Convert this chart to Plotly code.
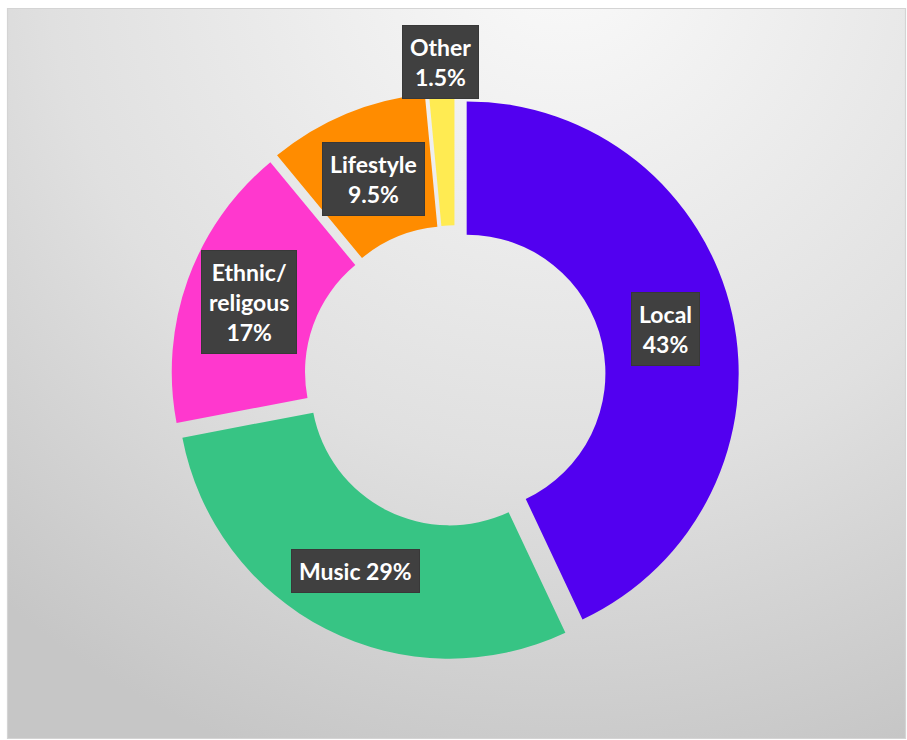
import base64
import math
import plotly.graph_objects as go

# ---- data ----
categories = ["Local", "Music", "Ethnic/religous", "Lifestyle", "Other"]
values = [43, 29, 17, 9.5, 1.5]
label_texts = ["Local<br>43%", "Music 29%", "Ethnic/<br>religous<br>17%", "Lifestyle<br>9.5%", "Other<br>1.5%"]
colors = ["#5200F0", "#37C484", "#FF38CE", "#FF8C00", "#FFEB52"]

# ---- layout constants ----
W, H = 907, 740
PULL = 0.044
HOLE = 0.51
CX, CY = 455, 376          # pie centre in pixels
R = 272                     # outer radius in pixels
half = R * (1 + PULL)
dom_x = [(CX - half) / W, (CX + half) / W]
dom_y = [1 - (CY + half) / H, 1 - (CY - half) / H]

fig = go.Figure()
fig.add_trace(go.Pie(
    labels=categories, values=values, sort=False, direction="clockwise", rotation=0,
    hole=HOLE, pull=[PULL] * len(values),
    marker=dict(colors=colors, line=dict(width=0)),
    textinfo="none", hoverinfo="label+percent", showlegend=False,
    domain=dict(x=dom_x, y=dom_y),
))

# background gradient (radial) as an SVG image
fx0, fy0, fx1, fy1 = 7.5, 8.5, 905.5, 738.5
fw, fh = fx1 - fx0, fy1 - fy0
svg = (
    f'<svg xmlns="http://www.w3.org/2000/svg" width="{fw}" height="{fh}" viewBox="0 0 {fw} {fh}" preserveAspectRatio="none">'
    '<defs><radialGradient id="g" gradientUnits="userSpaceOnUse" cx="555" cy="-60" r="860">'
    '<stop offset="0" stop-color="#fafafa"/><stop offset="0.6" stop-color="#e0e0e0"/>'
    '<stop offset="1" stop-color="#c6c6c6"/></radialGradient></defs>'
    f'<rect x="0" y="0" width="{fw}" height="{fh}" fill="url(#g)"/></svg>'
)
src = "data:image/svg+xml;base64," + base64.b64encode(svg.encode()).decode()
fig.add_layout_image(dict(source=src, xref="paper", yref="paper", x=fx0 / W, y=1 - fy0 / H,
                          sizex=fw / W, sizey=fh / H, sizing="stretch", layer="below",
                          xanchor="left", yanchor="top"))
fig.add_shape(type="rect", xref="paper", yref="paper", x0=fx0 / W, x1=fx1 / W,
              y0=1 - fy1 / H, y1=1 - fy0 / H, line=dict(color="#d4d4d4", width=1.2), layer="below")

# labels at slice mid-angles
label_r = [0.75, 0.76, 0.76, 0.74, 1.11]
total = sum(values)
cum = 0
for v, txt, lr in zip(values, label_texts, label_r):
    mid = (cum + v / 2) / total * 2 * math.pi
    cum += v
    px = CX + (R * lr + R * PULL) * math.sin(mid)
    py = CY - (R * lr + R * PULL) * math.cos(mid)
    fig.add_annotation(x=px / W, y=1 - py / H,
                       text="<b>" + txt.replace("<br>", "</b><br><b>") + "</b>",
                       xref="paper", yref="paper", showarrow=False, align="center",
                       xanchor="center", yanchor="middle", borderpad=7,
                       font=dict(family="Lato", size=23, color="white"),
                       bgcolor="#404040", bordercolor="#383838", borderwidth=1)

fig.update_layout(width=W, height=H, margin=dict(l=0, r=0, t=0, b=0),
                  paper_bgcolor="white", plot_bgcolor="white")
fig.write_html("out.html")
